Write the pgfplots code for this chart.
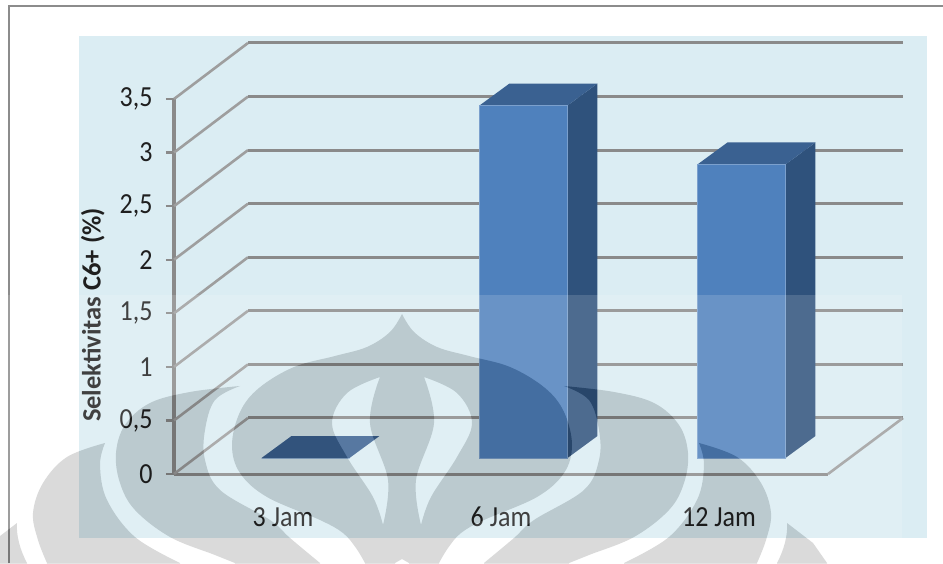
\documentclass[border=0pt]{standalone}
\usepackage{fontspec}
\setmainfont{Carlito}
\usepackage{pgfplots}
\pgfplotsset{compat=1.18}
\definecolor{wallbg}{RGB}{219,237,243}
\definecolor{frameline}{RGB}{140,140,140}
\definecolor{gridback}{RGB}{138,138,138}
\definecolor{gridside}{RGB}{158,158,158}
\definecolor{barfront}{RGB}{79,129,189}
\definecolor{barside}{RGB}{47,82,124}
\definecolor{bartop}{RGB}{58,97,145}
\definecolor{emblem}{RGB}{37,37,37}
% Categories sit one unit apart on the floor; faces are moved back by the same depth offset.
\pgfplotsset{
  face/.style={draw=none,fill=#1,xshift=22.5pt,yshift=16pt,forget plot},
  wall line/.style={gridback,line width=3pt,forget plot},
  side line/.style={gridside,line width=2.6pt,forget plot},
}
\begin{document}
\begin{tikzpicture}[x=1pt,y=1pt]
\useasboundingbox (0,0) rectangle (943,563);
\clip (0,0) rectangle (943,563);
% page frame and chart area
\fill[white] (0,0) rectangle (943,563);
\draw[frameline,line width=2.6pt] (9,0) -- (9,557) -- (943,557);
\fill[wallbg] (79,25) rectangle (927,527);
\begin{axis}[
  at={(174pt,89pt)},anchor=south west,
  scale only axis,width=654pt,height=375pt,
  clip=false,
  xmin=-0.5,xmax=2.5,ymin=0,ymax=3.5,
  axis y line=left,axis x line=bottom,
  axis line style={-,color=gridback},
  x axis line style={line width=3pt},
  y axis line style={line width=3.6pt},
  xtick={0,1,2},xticklabels={3 Jam,6 Jam,12 Jam},
  ytick={0,0.5,1,1.5,2,2.5,3,3.5},
  tick align=outside,
  tick style={color=gridback,line width=2.2pt},
  x tick style={draw=none},
  major tick length=8pt,
  tick label style={font=\fontsize{26}{30}\selectfont,text=black!88,yscale=1.12},
  yticklabel style={anchor=east,xshift=-10pt,
    /pgf/number format/use comma,/pgf/number format/assume math mode=true},
  xticklabel style={anchor=center,yshift=-31pt},
  ylabel={Selektivitas C6+ (\%)},
  ylabel style={at={(axis description cs:-0.124,0.424)},anchor=center,rotate=0,
    font=\fontsize{26.5}{30}\selectfont\bfseries,text=black!88},
]
% wall and side-wall rules, from the front edge to the back wall
\addplot[side line] coordinates {(-0.5,0)(-0.1606,0.5227)};
\addplot[side line] coordinates {(-0.5,0.5)(-0.1606,1.0227)};
\addplot[side line] coordinates {(-0.5,1)(-0.1606,1.5227)};
\addplot[side line] coordinates {(-0.5,1.5)(-0.1606,2.0227)};
\addplot[side line] coordinates {(-0.5,2)(-0.1606,2.5227)};
\addplot[side line] coordinates {(-0.5,2.5)(-0.1606,3.0227)};
\addplot[side line] coordinates {(-0.5,3)(-0.1606,3.5227)};
\addplot[side line] coordinates {(-0.5,3.5)(-0.1606,4.0227)};
\addplot[wall line] coordinates {(-0.1606,0.5227)(2.844,0.5227)};
\addplot[wall line] coordinates {(-0.1606,1.0227)(2.844,1.0227)};
\addplot[wall line] coordinates {(-0.1606,1.5227)(2.844,1.5227)};
\addplot[wall line] coordinates {(-0.1606,2.0227)(2.844,2.0227)};
\addplot[wall line] coordinates {(-0.1606,2.5227)(2.844,2.5227)};
\addplot[wall line] coordinates {(-0.1606,3.0227)(2.844,3.0227)};
\addplot[wall line] coordinates {(-0.1606,3.5227)(2.844,3.5227)};
\addplot[wall line] coordinates {(-0.1606,4.0227)(2.844,4.0227)};
\addplot[side line] coordinates {(2.5,0)(2.844,0.5227)};
% 3 Jam: zero height, only the top face shows
\addplot[face=bartop] coordinates {(-0.2018,0)(0.2018,0)(0.3394,0.2053)(-0.0642,0.2053)} -- cycle;
% 6 Jam and 12 Jam: side, top, then front face
\addplot[face=barside] coordinates {(1.2018,0)(1.3394,0.2053)(1.3394,3.4953)(1.2018,3.29)} -- cycle;
\addplot[face=bartop] coordinates {(0.7982,3.29)(1.2018,3.29)(1.3394,3.4953)(0.9358,3.4953)} -- cycle;
\addplot[face=barside] coordinates {(2.2018,0)(2.3394,0.2053)(2.3394,2.9453)(2.2018,2.74)} -- cycle;
\addplot[face=bartop] coordinates {(1.7982,2.74)(2.2018,2.74)(2.3394,2.9453)(1.9358,2.9453)} -- cycle;
\addplot[ybar,bar width=88pt,bar shift=0pt,face=barfront,draw=barfront!75!white,line width=0.8pt] coordinates {(0,0)(1,3.29)(2,2.74)};
\end{axis}
% pale band over the lower part of the page
\fill[white,opacity=0.15] (0,0) rectangle (902,268);
% university emblem printed across the page, in image-style coordinates (y downwards)
\begin{scope}[yscale=-1,yshift=-563pt,emblem,blend mode=difference]
  \fill[even odd rule]
    plot[smooth,tension=0.6] coordinates {(402,314)(390,332)(367,347)(335,356)(294,367)(259,388)(240,412)(232,445)(240,473)(267,497)(320,520)(343,533)(356,548)(365,563)}
    -- (395,563) -- (402,559) -- (409,563) -- (439,563)
    -- plot[smooth,tension=0.6] coordinates {(439,563)(448,548)(461,533)(484,520)(537,497)(564,473)(572,445)(564,412)(545,388)(510,367)(469,356)(437,347)(414,332)(402,314)}
    -- cycle
    plot[smooth,tension=0.6] coordinates {(380,377)(347,393)(332,423)(347,457)(373,497)(383,525)}
    -- plot[smooth,tension=0.6] coordinates {(383,525)(388,480)(370,423)(380,377)} -- cycle
    plot[smooth,tension=0.6] coordinates {(424,377)(457,393)(472,423)(457,457)(431,497)(421,525)}
    -- plot[smooth,tension=0.6] coordinates {(421,525)(416,480)(434,423)(424,377)} -- cycle;
  \foreach \m/\o in {1/0,-1/804}{
    \begin{scope}[xscale=\m,xshift=\m*\o pt]
      \fill plot[smooth,tension=0.6] coordinates {(240,386)(190,392)(150,403)(125,425)(116,453)(120,483)(135,510)(170,537)(215,555)(235,563)}
        -- (320,563)
        -- plot[smooth,tension=0.6] coordinates {(320,563)(290,538)(270,520)(220,490)(205,460)(205,430)(215,400)(240,386)} -- cycle;
      \fill plot[smooth,tension=0.6] coordinates {(105,443)(67,457)(43,483)(33,513)(38,540)(47,563)}
        -- (180,563)
        -- plot[smooth,tension=0.6] coordinates {(180,563)(135,537)(107,500)(100,465)(105,443)} -- cycle;
      \fill (17,523) -- (-9,543) -- (-23,563) -- (27,563)
        .. controls (20,550) and (16,535) .. (17,523) -- cycle;
    \end{scope}
  }
\end{scope}
\end{tikzpicture}
\end{document}
